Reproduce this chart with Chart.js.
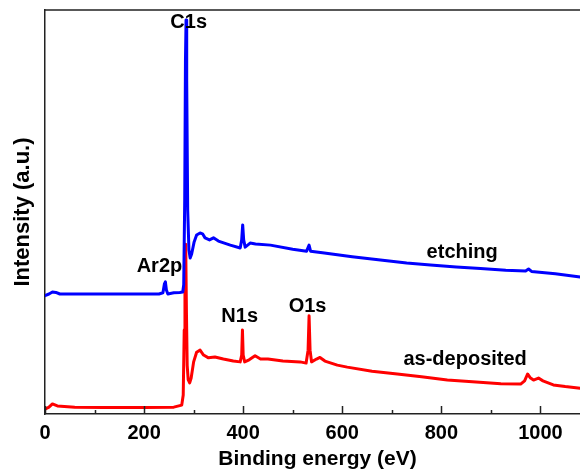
<!DOCTYPE html>
<html>
<head>
<meta charset="utf-8">
<script src="https://cdn.jsdelivr.net/npm/chart.js@4.4.1/dist/chart.umd.min.js"></script>
<style>
  html, body { margin: 0; padding: 0; background: #fff; }
  #wrap { width: 580px; height: 473px; overflow: hidden; }
</style>
</head>
<body>
<div id="wrap"><canvas id="xps" width="590" height="473"></canvas></div>
<script>
// XPS survey spectra, binding energy (eV) vs normalised intensity (a.u.)
const etchE = [0, 8, 15, 22, 30, 80, 150, 230, 238, 241, 243, 245, 248, 260, 272, 278, 280, 282, 283.5, 284.7, 286, 288, 290.5, 293, 296, 301, 306, 313, 318, 323, 332, 340, 350, 374, 394, 397, 399, 401, 404, 414, 425, 455, 500, 528, 533, 536, 560, 620, 677, 730, 778, 830, 879, 930, 970, 976, 982, 1030, 1080, 1100];
const etchI = [29.3, 29.7, 30.2, 30.1, 29.7, 29.7, 29.7, 29.7, 30.0, 32.2, 32.7, 30.7, 29.7, 30.0, 30.1, 30.2, 32.0, 53.0, 87.6, 97.5, 82.7, 50.5, 40.6, 38.6, 39.6, 42.6, 44.3, 44.8, 44.6, 43.6, 43.1, 43.6, 42.8, 41.8, 41.1, 43.1, 46.8, 43.1, 41.3, 42.3, 42.1, 41.8, 40.8, 40.3, 41.8, 40.3, 39.9, 38.9, 38.1, 37.4, 36.9, 36.4, 36.0, 35.6, 35.4, 35.9, 35.3, 34.7, 33.9, 33.6];

const depE = [0, 8, 15, 25, 60, 120, 200, 260, 276, 279, 281, 282.5, 284, 285.5, 287, 289, 292, 295, 300, 306, 313, 320, 330, 343, 360, 380, 394, 397, 398.5, 400, 403, 412, 424, 435, 450, 480, 515, 527, 531, 533, 535, 538, 548, 555, 565, 590, 610, 660, 711, 760, 812, 870, 920, 960, 968, 974, 980, 986, 996, 1005, 1026, 1050, 1080, 1100];
const depI = [1.2, 1.7, 2.5, 2.0, 1.7, 1.6, 1.6, 1.7, 2.2, 4.7, 20.8, 40.0, 42.0, 25.0, 12.0, 8.5, 7.7, 8.9, 12.9, 15.3, 15.8, 14.6, 13.9, 14.1, 13.6, 13.1, 12.9, 14.6, 20.8, 14.6, 12.9, 13.4, 14.4, 13.6, 13.6, 13.1, 12.9, 12.6, 15.8, 24.3, 15.8, 12.9, 13.6, 14.0, 13.1, 12.1, 11.6, 10.6, 9.9, 9.2, 8.4, 7.9, 7.5, 7.4, 8.2, 9.9, 8.9, 8.4, 8.9, 8.2, 7.2, 6.8, 6.4, 6.2];

// peak / curve labels: text, energy, intensity of the baseline
const labelText = ['C1s', 'Ar2p', 'N1s', 'O1s', 'etching', 'as-deposited'];
const labelE    = [290, 231, 393, 530, 842, 848];
const labelI    = [95.5, 35.1, 22.8, 25.2, 38.6, 12.1];

const xTicks = { min: 0, max: 1100, step: 100 };

const FONT = '"Liberation Sans", Arial, sans-serif';

function pts(xs, ys) {
  return xs.map((x, i) => ({ x: x, y: ys[i] }));
}

// inward tick marks + top frame line
const frame = {
  id: 'frame',
  afterDraw(chart) {
    const ctx = chart.ctx, a = chart.chartArea, sx = chart.scales.x;
    ctx.save();
    ctx.strokeStyle = '#222';
    ctx.lineWidth = 1.5;
    ctx.beginPath();
    ctx.moveTo(a.left - 0.75, a.top);
    ctx.lineTo(a.right, a.top);
    sx.ticks.forEach(t => {
      const px = Math.round(sx.getPixelForValue(t.value)) + 0.5;
      const len = t.value % 200 === 0 ? 8 : 4;
      ctx.moveTo(px, a.bottom);
      ctx.lineTo(px, a.bottom - len);
    });
    ctx.stroke();
    ctx.restore();
  }
};

const peakLabels = {
  id: 'peakLabels',
  afterDatasetsDraw(chart) {
    const ctx = chart.ctx, sx = chart.scales.x, sy = chart.scales.y;
    ctx.save();
    ctx.fillStyle = '#000';
    ctx.font = 'bold 20px ' + FONT;
    ctx.textAlign = 'center';
    ctx.textBaseline = 'alphabetic';
    labelText.forEach((t, i) => {
      ctx.fillText(t, sx.getPixelForValue(labelE[i]), sy.getPixelForValue(labelI[i]));
    });
    ctx.restore();
  }
};

new Chart(document.getElementById('xps'), {
  type: 'line',
  data: {
    datasets: [
      { label: 'etching', data: pts(etchE, etchI), borderColor: '#0000ff', borderWidth: 3, order: 1 },
      { label: 'as-deposited', data: pts(depE, depI), borderColor: '#ff0000', borderWidth: 3, order: 2 }
    ]
  },
  options: {
    responsive: false,
    animation: false,
    devicePixelRatio: 1,
    layout: { padding: { top: 10, right: 0, left: 0, bottom: 0 } },
    elements: {
      point: { radius: 0 },
      line: { tension: 0, borderJoinStyle: 'round', borderCapStyle: 'round' }
    },
    plugins: { legend: { display: false }, tooltip: { enabled: false } },
    scales: {
      x: {
        type: 'linear',
        min: xTicks.min,
        max: xTicks.max,
        grid: { display: false, drawTicks: false },
        border: { display: true, color: '#222', width: 1.5 },
        ticks: {
          stepSize: xTicks.step,
          includeBounds: false,
          autoSkip: false,
          maxRotation: 0,
          padding: 7,
          color: '#000',
          font: { family: FONT, size: 20, weight: 'bold' },
          callback: v => (v % 200 === 0 ? String(v) : '')
        },
        title: {
          display: true,
          text: 'Binding energy (eV)',
          color: '#000',
          font: { family: FONT, size: 21, weight: 'bold' },
          padding: { top: 0, bottom: 1 }
        },
        afterFit: s => { s.height = 59; s.paddingLeft = 0; s.paddingRight = 0; }
      },
      y: {
        min: 0,
        max: 100,
        grid: { display: false, drawTicks: false },
        border: { display: true, color: '#222', width: 1.5 },
        ticks: { display: false },
        title: {
          display: true,
          text: 'Intensity (a.u.)',
          color: '#000',
          font: { family: FONT, size: 22, weight: 'bold' },
          padding: { top: 10, bottom: 0 }
        },
        afterFit: s => { s.width = 45; }
      }
    }
  },
  plugins: [frame, peakLabels]
});
</script>
</body>
</html>
